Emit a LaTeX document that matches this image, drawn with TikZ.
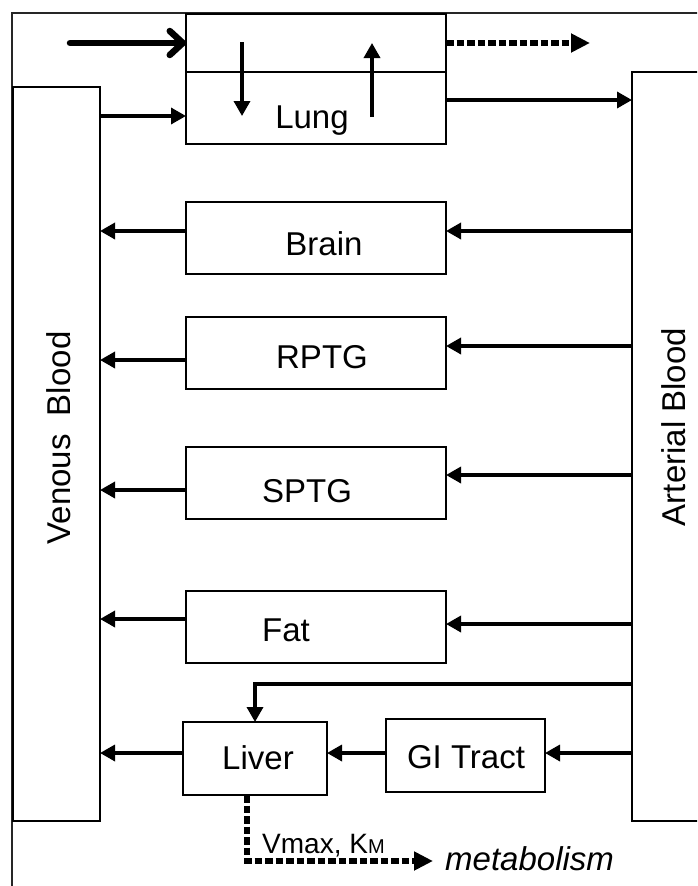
\documentclass[tikz,border=0pt]{standalone}
\usepackage{fontspec}
\setmainfont{Liberation Sans}
\usetikzlibrary{arrows.meta}
\begin{document}
\begin{tikzpicture}[x=1pt,y=-1pt,
  box/.style 2 args={draw, line width=2.8pt, minimum width=#1, minimum height=#2, anchor=north west, inner sep=0pt, outer sep=0pt},
  arr/.style={line width=3.4pt, -{Triangle[length=15pt,width=16pt]}},
  bigarr/.style={line width=6.5pt, line cap=round, -{Straight Barb[length=13pt,width=24pt,line cap=round,line join=round]}},
  dotarr/.style={line width=5.5pt, dash pattern=on 7.5pt off 3pt, -{Triangle[length=19pt,width=18pt]}},
  lbl/.style={anchor=base, inner sep=0pt, font=\fontsize{33}{40}\selectfont}]
\useasboundingbox (0,0) rectangle (697,886);
\clip (0,0) rectangle (697,886);
% outer frame
\draw[line width=1.5pt, black!85] (12,900) -- (12,13) -- (720,13);
% boxes
\node[box={260pt}{130pt}] (lung) at (186,14) {};
\node[box={87pt}{734pt}] (venous) at (13,87) {};
\node[box={100pt}{749pt}] (arterial) at (632,72) {};
\node[box={260pt}{72pt}] (brain) at (186,202) {};
\node[box={260pt}{72pt}] (rptg) at (186,317) {};
\node[box={260pt}{72pt}] (sptg) at (186,447) {};
\node[box={260pt}{72pt}] (fat) at (186,591) {};
\node[box={144pt}{73pt}] (liver) at (183,722) {};
\node[box={159pt}{73pt}] (gi) at (386,719) {};
\draw[line width=2.8pt] (lung.west |- 0,72) -- (lung.east |- 0,72);
% labels
\node[lbl] (tlung) at (312,128) {Lung};
\node[lbl] (tbrain) at (324,255) {Brain};
\node[lbl] (trptg) at (322,368) {RPTG};
\node[lbl] (tsptg) at (307,502) {SPTG};
\node[lbl] (tfat) at (286,641) {Fat};
\node[lbl] (tliver) at (258,769) {Liver};
\node[lbl] (tgi) at (466,768) {GI Tract};
\node[lbl, rotate=90] (tven) at (70,438) {Venous\ \ Blood};
\node[lbl, rotate=90] (tart) at (685,427) {Arterial Blood};
\node[anchor=base west, inner sep=0pt, font=\fontsize{28}{32}\selectfont] (tvmax) at (262,853) {Vmax, K{\fontsize{20}{22}\selectfont M}};
\node[anchor=base west, inner sep=0pt, font=\fontsize{33}{40}\selectfont\itshape] (tmet) at (445,870) {metabolism};
% lung connectors
\coordinate (inhale) at (70,43);
\coordinate (exhale) at (590,43);
\coordinate (d1) at (242,42);
\coordinate (d2) at (242,116);
\coordinate (u1) at (372,117);
\coordinate (u2) at (372,43);
\draw[bigarr] (inhale) -- (lung.west |- inhale);
\draw[dotarr] (lung.east |- exhale) -- (exhale);
\draw[arr] (d1) -- (d2);
\draw[arr] (u1) -- (u2);
\draw[arr] (venous.east |- 0,116) -- (lung.west |- 0,116);
\draw[arr] (lung.east |- 0,100) -- (arterial.west |- 0,100);
% organs
\draw[arr] (arterial.west |- 0,231) -- (brain.east |- 0,231);
\draw[arr] (brain.west |- 0,231) -- (venous.east |- 0,231);
\draw[arr] (arterial.west |- 0,346) -- (rptg.east |- 0,346);
\draw[arr] (rptg.west |- 0,360) -- (venous.east |- 0,360);
\draw[arr] (arterial.west |- 0,475) -- (sptg.east |- 0,475);
\draw[arr] (sptg.west |- 0,490) -- (venous.east |- 0,490);
\draw[arr] (arterial.west |- 0,624) -- (fat.east |- 0,624);
\draw[arr] (fat.west |- 0,619) -- (venous.east |- 0,619);
% liver / GI
\draw[arr] (arterial.west |- 0,684) -| (liver.north);
\draw[arr] (arterial.west |- 0,753) -- (gi.east |- 0,753);
\draw[arr] (gi.west |- 0,753) -- (liver.east |- 0,753);
\draw[arr] (liver.west |- 0,753) -- (venous.east |- 0,753);
\coordinate (met) at (433,861);
\draw[dotarr] (liver.south -| 247,0) |- (met);
\end{tikzpicture}
\end{document}
